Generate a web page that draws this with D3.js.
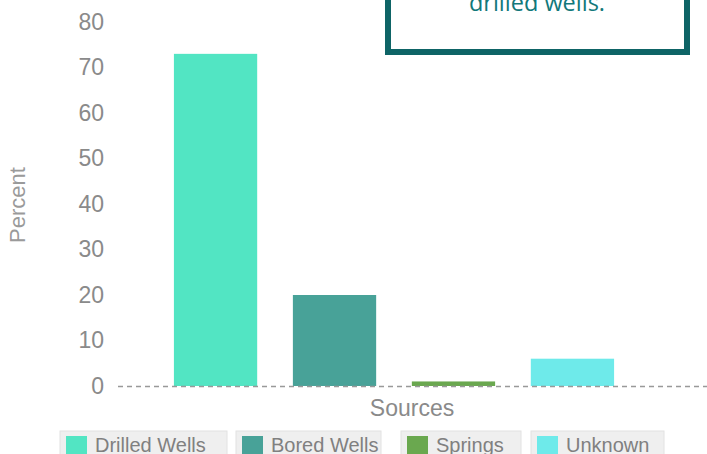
<!DOCTYPE html>
<html>
<head>
<meta charset="utf-8">
<script src="https://cdn.jsdelivr.net/npm/d3@7"></script>
<style>
  body { margin: 0; background: #fff; }
  svg { display: block; font-family: "Liberation Sans", Arial, sans-serif; }
</style>
</head>
<body>
<div id="chart"></div>
<script>
const sources = ["Drilled Wells", "Bored Wells", "Springs", "Unknown"];
const percents = [73, 20, 1, 6];
const colors = ["#52e5c3", "#48a298", "#6aa84f", "#6eeaea"];
const yTicks = [0, 10, 20, 30, 40, 50, 60, 70, 80];
const note = "drilled wells.";

const width = 707, height = 454;

const svg = d3.select("#chart").append("svg")
    .attr("width", width)
    .attr("height", height);

const x = d3.scaleBand()
    .domain(sources)
    .range([118, 670])
    .paddingInner(0.3)
    .paddingOuter(0.47);

const y = d3.scaleLinear()
    .domain([0, 80])
    .range([386, 22]);

// y axis labels
const yAxis = d3.axisLeft(y)
    .tickValues(yTicks)
    .tickSize(0)
    .tickPadding(0);

const yg = svg.append("g")
    .attr("transform", "translate(104,0)")
    .call(yAxis);
yg.select(".domain").remove();
yg.selectAll("text")
    .attr("fill", "#8a8a8a")
    .attr("font-size", 23)
    .attr("font-family", "Liberation Sans, Arial, sans-serif");

svg.append("text")
    .attr("transform", "translate(25,205) rotate(-90)")
    .attr("text-anchor", "middle")
    .attr("fill", "#9a9a9a")
    .attr("font-size", 22)
    .text("Percent");

// bars
svg.selectAll("rect.bar")
    .data(sources)
    .enter()
  .append("rect")
    .attr("class", "bar")
    .attr("x", d => x(d))
    .attr("width", x.bandwidth())
    .attr("y", (d, i) => y(percents[i]))
    .attr("height", (d, i) => y(0) - y(percents[i]))
    .attr("fill", (d, i) => colors[i]);

// zero line
svg.append("line")
    .attr("x1", 118)
    .attr("x2", width)
    .attr("y1", y(0) + 0.5)
    .attr("y2", y(0) + 0.5)
    .attr("stroke", "#999")
    .attr("stroke-width", 1.5)
    .attr("stroke-dasharray", "5,4");

svg.append("text")
    .attr("x", 412)
    .attr("y", 416)
    .attr("text-anchor", "middle")
    .attr("fill", "#8a8a8a")
    .attr("font-size", 23)
    .text("Sources");

// legend
const legendX = [60, 236, 401, 531];
const legendW = [167, 145, 120, 133];
const legend = svg.selectAll("g.legend")
    .data(sources)
    .enter()
  .append("g")
    .attr("class", "legend")
    .attr("transform", (d, i) => `translate(${legendX[i]},431)`);

legend.append("rect")
    .attr("width", (d, i) => legendW[i])
    .attr("height", 30)
    .attr("fill", "#efefef")
    .attr("stroke", "#e2e2e2");

legend.append("rect")
    .attr("x", 6)
    .attr("y", 5)
    .attr("width", 21)
    .attr("height", 21)
    .attr("fill", (d, i) => colors[i]);

legend.append("text")
    .attr("x", 35)
    .attr("y", 21)
    .attr("fill", "#808080")
    .attr("font-size", 20)
    .text(d => d);

// annotation box
svg.append("rect")
    .attr("x", 388)
    .attr("y", -60)
    .attr("width", 299)
    .attr("height", 112)
    .attr("fill", "#fff")
    .attr("stroke", "#0e6466")
    .attr("stroke-width", 6);

svg.append("text")
    .attr("x", 537)
    .attr("y", 11)
    .attr("text-anchor", "middle")
    .attr("fill", "#12787a")
    .attr("font-family", "Open Sans, sans-serif")
    .attr("font-size", 23.5)
    .text(note);
</script>
</body>
</html>
